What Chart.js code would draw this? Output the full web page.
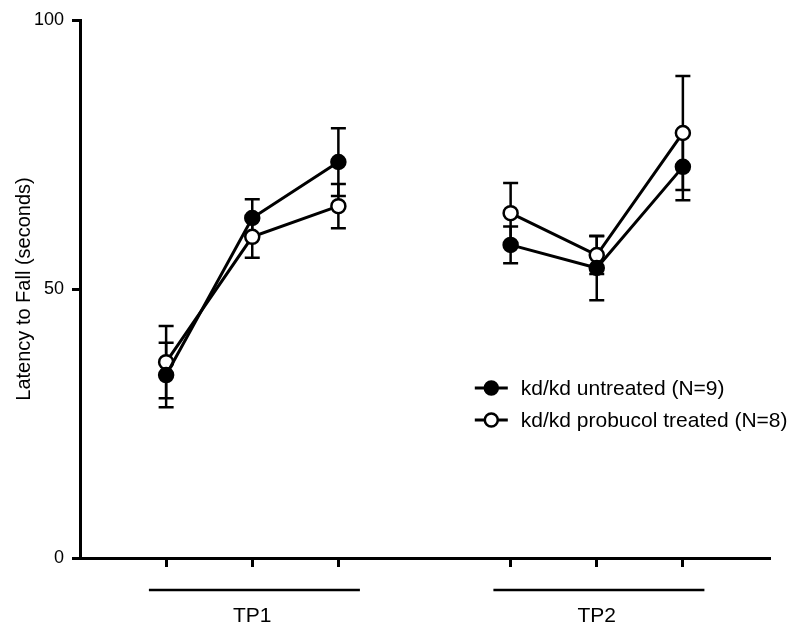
<!DOCTYPE html>
<html>
<head>
<meta charset="utf-8">
<script src="https://cdn.jsdelivr.net/npm/chart.js@4.4.1/dist/chart.umd.min.js"></script>
<style>
  html, body { margin: 0; padding: 0; background: #fff; }
  #wrap { width: 800px; height: 638px; }
</style>
</head>
<body>
<div id="wrap"><canvas id="chart" width="800" height="638"></canvas></div>
<script>
// time point groups and the slot of each measurement on the x axis
var groupLabels = ['TP1', 'TP2'];
var groupSlots = [[1, 2, 3], [5, 6, 7]];

// kd/kd untreated (N=9), mean and SEM, seconds
var untreatedMean = [34.0, 63.2, 73.6, 58.2, 53.9, 72.7];
var untreatedSem  = [6.0, 3.5, 6.3, 3.4, 6.0, 6.2];

// kd/kd probucol treated (N=8)
var probucolMean = [36.4, 59.7, 65.4, 64.1, 56.3, 79.0];
var probucolSem  = [6.7, 3.9, 4.1, 5.6, 3.5, 10.6];

var yTicks = [0, 50, 100];
var FONT = '"Liberation Sans", Arial, sans-serif';

// points per group, with a null between groups so the line breaks
function buildPoints(means, sems) {
    var pts = [], i = 0;
    groupSlots.forEach((slots, g) => {
        if (g > 0) pts.push({ x: slots[0] - 1, y: null });
        slots.forEach(s => { pts.push({ x: s, y: means[i], sem: sems[i] }); i++; });
    });
    return pts;
}

var errorBars = {
    id: 'errorBars',
    beforeDatasetsDraw(chart) {
        var ctx = chart.ctx, xs = chart.scales.x, ys = chart.scales.y;
        ctx.save();
        ctx.strokeStyle = '#000';
        ctx.lineWidth = 2.5;
        chart.data.datasets.forEach(ds => {
            ds.data.forEach(p => {
                if (p.y === null) return;
                var px = xs.getPixelForValue(p.x);
                var top = ys.getPixelForValue(p.y + p.sem);
                var bot = ys.getPixelForValue(p.y - p.sem);
                ctx.beginPath();
                ctx.moveTo(px, top); ctx.lineTo(px, bot);
                ctx.moveTo(px - 7.5, top); ctx.lineTo(px + 7.5, top);
                ctx.moveTo(px - 7.5, bot); ctx.lineTo(px + 7.5, bot);
                ctx.stroke();
            });
        });
        ctx.restore();
    }
};

var groupAxis = {
    id: 'groupAxis',
    afterDraw(chart) {
        var ctx = chart.ctx, xs = chart.scales.x, area = chart.chartArea;
        var step = xs.getPixelForValue(2) - xs.getPixelForValue(1);
        ctx.save();
        ctx.strokeStyle = '#000';
        ctx.fillStyle = '#000';
        ctx.lineWidth = 2.5;
        ctx.font = '21px ' + FONT;
        ctx.textAlign = 'center';
        ctx.textBaseline = 'middle';
        groupSlots.forEach((slots, g) => {
            var a = xs.getPixelForValue(slots[0]) - step * 0.2;
            var b = xs.getPixelForValue(slots[slots.length - 1]) + step * 0.25;
            var yLine = area.bottom + 32;
            ctx.beginPath();
            ctx.moveTo(a, yLine); ctx.lineTo(b, yLine);
            ctx.stroke();
            ctx.fillText(groupLabels[g], xs.getPixelForValue(slots[1]), area.bottom + 58);
        });
        ctx.restore();
    }
};

var customLegend = {
    id: 'customLegend',
    afterDraw(chart) {
        var ctx = chart.ctx, area = chart.chartArea;
        var x0 = area.left + (area.right - area.left) * 0.573;
        var y0 = area.top + (area.bottom - area.top) * 0.684;
        ctx.save();
        ctx.font = '21px ' + FONT;
        ctx.textBaseline = 'middle';
        ctx.textAlign = 'left';
        chart.data.datasets.forEach((ds, i) => {
            var y = y0 + i * 32;
            ctx.strokeStyle = '#000';
            ctx.lineWidth = 3;
            ctx.beginPath();
            ctx.moveTo(x0, y); ctx.lineTo(x0 + 33, y);
            ctx.stroke();
            ctx.beginPath();
            ctx.arc(x0 + 16.5, y, 6.5, 0, Math.PI * 2);
            ctx.fillStyle = ds.pointBackgroundColor;
            ctx.fill();
            ctx.lineWidth = 2.5;
            ctx.stroke();
            ctx.fillStyle = '#000';
            ctx.fillText(ds.label, x0 + 46, y + 1);
        });
        ctx.restore();
    }
};

new Chart(document.getElementById('chart'), {
    type: 'line',
    data: {
        datasets: [
            {
                label: 'kd/kd untreated (N=9)',
                data: buildPoints(untreatedMean, untreatedSem),
                borderColor: '#000',
                borderWidth: 3,
                pointRadius: 7,
                pointBorderWidth: 2.5,
                pointBackgroundColor: '#000',
                pointBorderColor: '#000',
                spanGaps: false
            },
            {
                label: 'kd/kd probucol treated (N=8)',
                data: buildPoints(probucolMean, probucolSem),
                borderColor: '#000',
                borderWidth: 3,
                pointRadius: 7,
                pointBorderWidth: 2.5,
                pointBackgroundColor: '#fff',
                pointBorderColor: '#000',
                spanGaps: false
            }
        ]
    },
    options: {
        responsive: false,
        animation: false,
        layout: { padding: { top: 20, right: 31, left: 0, bottom: 0 } },
        plugins: {
            legend: { display: false },
            tooltip: { enabled: false }
        },
        scales: {
            x: {
                type: 'linear',
                min: 0,
                max: 8,
                afterBuildTicks: (scale) => {
                    scale.ticks = groupSlots.flat().map(v => ({ value: v }));
                },
                afterFit: (scale) => { scale.height = 80; },
                ticks: { display: false },
                grid: {
                    display: true,
                    drawOnChartArea: false,
                    drawTicks: true,
                    tickLength: 9,
                    color: '#000',
                    lineWidth: 3
                },
                border: { display: true, color: '#000', width: 3 }
            },
            y: {
                min: 0,
                max: 100,
                afterBuildTicks: (scale) => {
                    scale.ticks = yTicks.map(v => ({ value: v }));
                },
                afterFit: (scale) => { scale.width = 80; },
                ticks: {
                    color: '#000',
                    font: { size: 18, family: FONT },
                    padding: 8
                },
                grid: {
                    display: true,
                    drawOnChartArea: false,
                    drawTicks: true,
                    tickLength: 8,
                    color: '#000',
                    lineWidth: 3
                },
                border: { display: true, color: '#000', width: 3 },
                title: {
                    display: true,
                    text: 'Latency to Fall (seconds)',
                    color: '#000',
                    font: { size: 20, family: FONT },
                    padding: { top: 12, bottom: 0 }
                }
            }
        }
    },
    plugins: [errorBars, groupAxis, customLegend]
});
</script>
</body>
</html>
